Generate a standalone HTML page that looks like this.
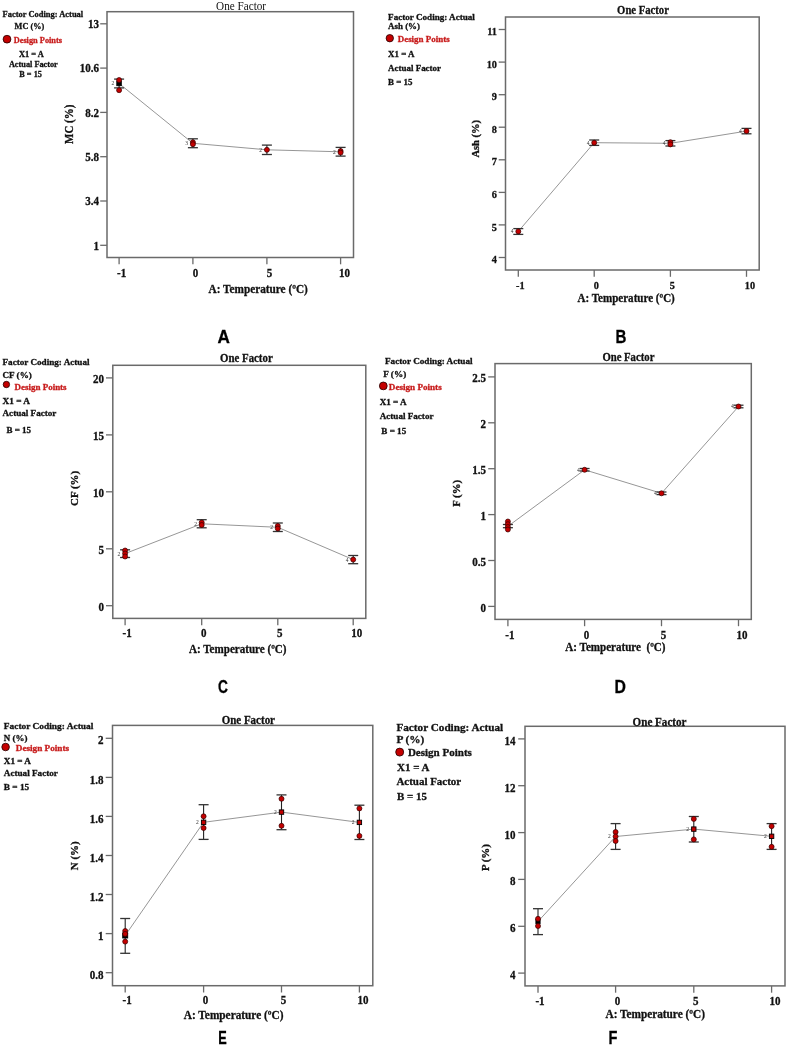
<!DOCTYPE html>
<html><head><meta charset="utf-8"><title>One Factor plots</title>
<style>
html,body{margin:0;padding:0;background:#fff;}
body{width:787px;height:1045px;overflow:hidden;font-family:"Liberation Serif",serif;}
svg{display:block;will-change:transform;}
</style></head><body>
<svg width="787" height="1045" viewBox="0 0 787 1045" font-family='"Liberation Serif", serif' fill="#111">
<rect width="787" height="1045" fill="#fff"/>
<rect x="107.0" y="11.7" width="246.5" height="245.8" fill="none" stroke="#6a6a6a" stroke-width="1.5"/>
<text x="216.1" y="9.7" font-size="11.75" textLength="50.0" lengthAdjust="spacingAndGlyphs">One Factor</text>
<line x1="100.2" y1="23.8" x2="107.0" y2="23.8" stroke="#6a6a6a" stroke-width="1.3"/>
<text transform="translate(99.0,28.1) scale(0.92,1)" font-size="12" font-weight="bold" text-anchor="end" stroke="#111" stroke-width="0.3">13</text>
<line x1="100.2" y1="68.1" x2="107.0" y2="68.1" stroke="#6a6a6a" stroke-width="1.3"/>
<text transform="translate(99.0,72.4) scale(0.92,1)" font-size="12" font-weight="bold" text-anchor="end" stroke="#111" stroke-width="0.3">10.6</text>
<line x1="100.2" y1="112.4" x2="107.0" y2="112.4" stroke="#6a6a6a" stroke-width="1.3"/>
<text transform="translate(99.0,116.7) scale(0.92,1)" font-size="12" font-weight="bold" text-anchor="end" stroke="#111" stroke-width="0.3">8.2</text>
<line x1="100.2" y1="156.7" x2="107.0" y2="156.7" stroke="#6a6a6a" stroke-width="1.3"/>
<text transform="translate(99.0,161.0) scale(0.92,1)" font-size="12" font-weight="bold" text-anchor="end" stroke="#111" stroke-width="0.3">5.8</text>
<line x1="100.2" y1="201.0" x2="107.0" y2="201.0" stroke="#6a6a6a" stroke-width="1.3"/>
<text transform="translate(99.0,205.3) scale(0.92,1)" font-size="12" font-weight="bold" text-anchor="end" stroke="#111" stroke-width="0.3">3.4</text>
<line x1="100.2" y1="245.3" x2="107.0" y2="245.3" stroke="#6a6a6a" stroke-width="1.3"/>
<text transform="translate(99.0,249.6) scale(0.92,1)" font-size="12" font-weight="bold" text-anchor="end" stroke="#111" stroke-width="0.3">1</text>
<line x1="119.1" y1="257.5" x2="119.1" y2="264.3" stroke="#6a6a6a" stroke-width="1.3"/>
<text transform="translate(121.6,276.7) scale(0.92,1)" font-size="12" font-weight="bold" text-anchor="middle" stroke="#111" stroke-width="0.3">-1</text>
<line x1="192.9" y1="257.5" x2="192.9" y2="264.3" stroke="#6a6a6a" stroke-width="1.3"/>
<text transform="translate(195.4,276.7) scale(0.92,1)" font-size="12" font-weight="bold" text-anchor="middle" stroke="#111" stroke-width="0.3">0</text>
<line x1="266.9" y1="257.5" x2="266.9" y2="264.3" stroke="#6a6a6a" stroke-width="1.3"/>
<text transform="translate(269.4,276.7) scale(0.92,1)" font-size="12" font-weight="bold" text-anchor="middle" stroke="#111" stroke-width="0.3">5</text>
<line x1="340.6" y1="257.5" x2="340.6" y2="264.3" stroke="#6a6a6a" stroke-width="1.3"/>
<text transform="translate(344.6,276.7) scale(0.92,1)" font-size="12" font-weight="bold" text-anchor="middle" stroke="#111" stroke-width="0.3">10</text>
<text x="208.5" y="293.3" font-size="11.87" font-weight="bold" textLength="99.3" lengthAdjust="spacingAndGlyphs" stroke="#111" stroke-width="0.3">A: Temperature (ºC)</text>
<text transform="translate(73.2,124.3) rotate(-90)" x="0" y="0" font-size="12" font-weight="bold" text-anchor="middle" textLength="39.2" lengthAdjust="spacingAndGlyphs" stroke="#111" stroke-width="0.3">MC (%)</text>
<text x="2.5" y="17.1" font-size="8.80" font-weight="bold" textLength="80.7" lengthAdjust="spacingAndGlyphs" stroke="#111" stroke-width="0.3">Factor Coding: Actual</text>
<text x="14.6" y="29.3" font-size="8.80" font-weight="bold" textLength="29.6" lengthAdjust="spacingAndGlyphs" stroke="#111" stroke-width="0.3">MC (%)</text>
<circle cx="7.0" cy="39.2" r="3.9" fill="#c40000" stroke="#200" stroke-width="0.8"/>
<text x="13.7" y="42.7" font-size="8.80" font-weight="bold" textLength="48.3" lengthAdjust="spacingAndGlyphs" fill="#c81c1c" stroke="#c81c1c" stroke-width="0.3">Design Points</text>
<text x="19.0" y="56.7" font-size="8.80" font-weight="bold" textLength="24.8" lengthAdjust="spacingAndGlyphs" stroke="#111" stroke-width="0.3">X1 = A</text>
<text x="8.9" y="66.8" font-size="8.80" font-weight="bold" textLength="48.9" lengthAdjust="spacingAndGlyphs" stroke="#111" stroke-width="0.3">Actual Factor</text>
<text x="19.3" y="77.0" font-size="8.80" font-weight="bold" textLength="22.6" lengthAdjust="spacingAndGlyphs" stroke="#111" stroke-width="0.3">B = 15</text>
<text x="217.4" y="342.9" font-size="18.50" font-weight="bold" textLength="12.4" lengthAdjust="spacingAndGlyphs" font-family='"Liberation Sans", sans-serif' fill="#000" stroke="#000" stroke-width="0.3">A</text>
<path d="M119.1,83.5 L192.9,143.3 L266.9,149.8 L340.6,151.8" fill="none" stroke="#8a8a8a" stroke-width="0.9"/>
<text x="112.9" y="85.4" font-size="5.5" text-anchor="middle" fill="#333">2</text>
<text x="186.7" y="145.2" font-size="5.5" text-anchor="middle" fill="#333">3</text>
<text x="260.7" y="151.7" font-size="5.5" text-anchor="middle" fill="#333">2</text>
<text x="334.4" y="153.7" font-size="5.5" text-anchor="middle" fill="#333">2</text>
<line x1="119.1" y1="79.1" x2="119.1" y2="87.9" stroke="#222" stroke-width="1.1"/>
<line x1="114.1" y1="79.1" x2="124.1" y2="79.1" stroke="#333" stroke-width="1.3"/>
<line x1="114.1" y1="87.9" x2="124.1" y2="87.9" stroke="#333" stroke-width="1.3"/>
<rect x="116.8" y="81.2" width="4.5" height="4.5" fill="#000" stroke="#000" stroke-width="0.9"/>
<circle cx="119.1" cy="80.0" r="2.5" fill="#c40000" stroke="#300" stroke-width="0.7"/>
<circle cx="119.1" cy="90.2" r="2.5" fill="#c40000" stroke="#300" stroke-width="0.7"/>
<line x1="192.9" y1="138.8" x2="192.9" y2="147.7" stroke="#222" stroke-width="1.1"/>
<line x1="187.9" y1="138.8" x2="197.9" y2="138.8" stroke="#333" stroke-width="1.3"/>
<line x1="187.9" y1="147.7" x2="197.9" y2="147.7" stroke="#333" stroke-width="1.3"/>
<circle cx="192.9" cy="142.3" r="2.5" fill="#c40000" stroke="#300" stroke-width="0.7"/>
<circle cx="192.9" cy="144.2" r="2.5" fill="#c40000" stroke="#300" stroke-width="0.7"/>
<line x1="266.9" y1="145.1" x2="266.9" y2="154.5" stroke="#222" stroke-width="1.1"/>
<line x1="261.9" y1="145.1" x2="271.9" y2="145.1" stroke="#333" stroke-width="1.3"/>
<line x1="261.9" y1="154.5" x2="271.9" y2="154.5" stroke="#333" stroke-width="1.3"/>
<circle cx="266.9" cy="149.8" r="2.5" fill="#c40000" stroke="#300" stroke-width="0.7"/>
<line x1="340.6" y1="147.4" x2="340.6" y2="156.1" stroke="#222" stroke-width="1.1"/>
<line x1="335.6" y1="147.4" x2="345.6" y2="147.4" stroke="#333" stroke-width="1.3"/>
<line x1="335.6" y1="156.1" x2="345.6" y2="156.1" stroke="#333" stroke-width="1.3"/>
<circle cx="340.6" cy="151.0" r="2.5" fill="#c40000" stroke="#300" stroke-width="0.7"/>
<circle cx="340.6" cy="152.6" r="2.5" fill="#c40000" stroke="#300" stroke-width="0.7"/>
<rect x="505.5" y="17.0" width="253.7" height="253.0" fill="none" stroke="#6a6a6a" stroke-width="1.5"/>
<text x="617.1" y="13.5" font-size="12.10" font-weight="bold" textLength="51.8" lengthAdjust="spacingAndGlyphs" stroke="#111" stroke-width="0.3">One Factor</text>
<line x1="498.7" y1="29.5" x2="505.5" y2="29.5" stroke="#6a6a6a" stroke-width="1.3"/>
<text transform="translate(497.0,35.1) scale(0.92,1)" font-size="11.2" font-weight="bold" text-anchor="end" stroke="#111" stroke-width="0.3">11</text>
<line x1="498.7" y1="62.1" x2="505.5" y2="62.1" stroke="#6a6a6a" stroke-width="1.3"/>
<text transform="translate(497.0,67.7) scale(0.92,1)" font-size="11.2" font-weight="bold" text-anchor="end" stroke="#111" stroke-width="0.3">10</text>
<line x1="498.7" y1="94.7" x2="505.5" y2="94.7" stroke="#6a6a6a" stroke-width="1.3"/>
<text transform="translate(497.0,100.2) scale(0.92,1)" font-size="11.2" font-weight="bold" text-anchor="end" stroke="#111" stroke-width="0.3">9</text>
<line x1="498.7" y1="127.2" x2="505.5" y2="127.2" stroke="#6a6a6a" stroke-width="1.3"/>
<text transform="translate(497.0,132.8) scale(0.92,1)" font-size="11.2" font-weight="bold" text-anchor="end" stroke="#111" stroke-width="0.3">8</text>
<line x1="498.7" y1="159.8" x2="505.5" y2="159.8" stroke="#6a6a6a" stroke-width="1.3"/>
<text transform="translate(497.0,165.4) scale(0.92,1)" font-size="11.2" font-weight="bold" text-anchor="end" stroke="#111" stroke-width="0.3">7</text>
<line x1="498.7" y1="192.4" x2="505.5" y2="192.4" stroke="#6a6a6a" stroke-width="1.3"/>
<text transform="translate(497.0,198.0) scale(0.92,1)" font-size="11.2" font-weight="bold" text-anchor="end" stroke="#111" stroke-width="0.3">6</text>
<line x1="498.7" y1="224.9" x2="505.5" y2="224.9" stroke="#6a6a6a" stroke-width="1.3"/>
<text transform="translate(497.0,230.5) scale(0.92,1)" font-size="11.2" font-weight="bold" text-anchor="end" stroke="#111" stroke-width="0.3">5</text>
<line x1="498.7" y1="257.5" x2="505.5" y2="257.5" stroke="#6a6a6a" stroke-width="1.3"/>
<text transform="translate(497.0,263.1) scale(0.92,1)" font-size="11.2" font-weight="bold" text-anchor="end" stroke="#111" stroke-width="0.3">4</text>
<line x1="518.3" y1="270.0" x2="518.3" y2="276.8" stroke="#6a6a6a" stroke-width="1.3"/>
<text transform="translate(520.3,289.0) scale(0.92,1)" font-size="11.2" font-weight="bold" text-anchor="middle" stroke="#111" stroke-width="0.3">-1</text>
<line x1="594.2" y1="270.0" x2="594.2" y2="276.8" stroke="#6a6a6a" stroke-width="1.3"/>
<text transform="translate(596.2,289.0) scale(0.92,1)" font-size="11.2" font-weight="bold" text-anchor="middle" stroke="#111" stroke-width="0.3">0</text>
<line x1="670.4" y1="270.0" x2="670.4" y2="276.8" stroke="#6a6a6a" stroke-width="1.3"/>
<text transform="translate(672.4,289.0) scale(0.92,1)" font-size="11.2" font-weight="bold" text-anchor="middle" stroke="#111" stroke-width="0.3">5</text>
<line x1="746.5" y1="270.0" x2="746.5" y2="276.8" stroke="#6a6a6a" stroke-width="1.3"/>
<text transform="translate(750.0,289.0) scale(0.92,1)" font-size="11.2" font-weight="bold" text-anchor="middle" stroke="#111" stroke-width="0.3">10</text>
<text x="577.5" y="302.2" font-size="11.66" font-weight="bold" textLength="97.3" lengthAdjust="spacingAndGlyphs" stroke="#111" stroke-width="0.3">A: Temperature (ºC)</text>
<text transform="translate(479.2,138.8) rotate(-90)" x="0" y="0" font-size="11" font-weight="bold" text-anchor="middle" textLength="37.6" lengthAdjust="spacingAndGlyphs" stroke="#111" stroke-width="0.3">Ash (%)</text>
<text x="388.1" y="19.8" font-size="8.80" font-weight="bold" textLength="86.8" lengthAdjust="spacingAndGlyphs" stroke="#111" stroke-width="0.3">Factor Coding: Actual</text>
<text x="388.1" y="29.2" font-size="8.80" font-weight="bold" textLength="31.9" lengthAdjust="spacingAndGlyphs" stroke="#111" stroke-width="0.3">Ash (%)</text>
<circle cx="389.8" cy="38.2" r="3.7" fill="#c40000" stroke="#200" stroke-width="0.8"/>
<text x="397.7" y="42.3" font-size="8.80" font-weight="bold" textLength="52.0" lengthAdjust="spacingAndGlyphs" fill="#c81c1c" stroke="#c81c1c" stroke-width="0.3">Design Points</text>
<text x="388.1" y="57.3" font-size="8.80" font-weight="bold" textLength="26.5" lengthAdjust="spacingAndGlyphs" stroke="#111" stroke-width="0.3">X1 = A</text>
<text x="388.1" y="70.5" font-size="8.80" font-weight="bold" textLength="52.9" lengthAdjust="spacingAndGlyphs" stroke="#111" stroke-width="0.3">Actual Factor</text>
<text x="388.1" y="84.8" font-size="8.80" font-weight="bold" textLength="24.4" lengthAdjust="spacingAndGlyphs" stroke="#111" stroke-width="0.3">B = 15</text>
<text x="615.4" y="342.6" font-size="18.50" font-weight="bold" textLength="10.9" lengthAdjust="spacingAndGlyphs" font-family='"Liberation Sans", sans-serif' fill="#000" stroke="#000" stroke-width="0.3">B</text>
<path d="M518.3,231.4 L594.2,142.7 L670.4,143.3 L746.5,131.1" fill="none" stroke="#8a8a8a" stroke-width="0.9"/>
<text x="512.1" y="233.3" font-size="5.5" text-anchor="middle" fill="#333">4</text>
<text x="588.0" y="144.6" font-size="5.5" text-anchor="middle" fill="#333">4</text>
<text x="664.2" y="145.2" font-size="5.5" text-anchor="middle" fill="#333">4</text>
<text x="740.3" y="133.0" font-size="5.5" text-anchor="middle" fill="#333">4</text>
<line x1="518.3" y1="228.6" x2="518.3" y2="234.4" stroke="#222" stroke-width="1.1"/>
<line x1="513.3" y1="228.6" x2="523.3" y2="228.6" stroke="#333" stroke-width="1.3"/>
<line x1="513.3" y1="234.4" x2="523.3" y2="234.4" stroke="#333" stroke-width="1.3"/>
<circle cx="518.3" cy="231.4" r="2.5" fill="#c40000" stroke="#300" stroke-width="0.7"/>
<line x1="594.2" y1="140.0" x2="594.2" y2="145.4" stroke="#222" stroke-width="1.1"/>
<line x1="589.2" y1="140.0" x2="599.2" y2="140.0" stroke="#333" stroke-width="1.3"/>
<line x1="589.2" y1="145.4" x2="599.2" y2="145.4" stroke="#333" stroke-width="1.3"/>
<circle cx="594.2" cy="142.7" r="2.5" fill="#c40000" stroke="#300" stroke-width="0.7"/>
<line x1="670.4" y1="140.6" x2="670.4" y2="146.0" stroke="#222" stroke-width="1.1"/>
<line x1="665.4" y1="140.6" x2="675.4" y2="140.6" stroke="#333" stroke-width="1.3"/>
<line x1="665.4" y1="146.0" x2="675.4" y2="146.0" stroke="#333" stroke-width="1.3"/>
<circle cx="670.4" cy="142.2" r="2.5" fill="#c40000" stroke="#300" stroke-width="0.7"/>
<circle cx="670.4" cy="144.4" r="2.5" fill="#c40000" stroke="#300" stroke-width="0.7"/>
<line x1="746.5" y1="128.4" x2="746.5" y2="133.8" stroke="#222" stroke-width="1.1"/>
<line x1="741.5" y1="128.4" x2="751.5" y2="128.4" stroke="#333" stroke-width="1.3"/>
<line x1="741.5" y1="133.8" x2="751.5" y2="133.8" stroke="#333" stroke-width="1.3"/>
<circle cx="746.5" cy="131.1" r="2.5" fill="#c40000" stroke="#300" stroke-width="0.7"/>
<rect x="112.8" y="365.3" width="253.0" height="253.1" fill="none" stroke="#6a6a6a" stroke-width="1.5"/>
<text x="220.1" y="361.7" font-size="11.55" font-weight="bold" textLength="52.6" lengthAdjust="spacingAndGlyphs" stroke="#111" stroke-width="0.3">One Factor</text>
<line x1="106.0" y1="377.9" x2="112.8" y2="377.9" stroke="#6a6a6a" stroke-width="1.3"/>
<text transform="translate(104.0,382.7) scale(0.92,1)" font-size="12" font-weight="bold" text-anchor="end" stroke="#111" stroke-width="0.3">20</text>
<line x1="106.0" y1="434.9" x2="112.8" y2="434.9" stroke="#6a6a6a" stroke-width="1.3"/>
<text transform="translate(104.0,439.7) scale(0.92,1)" font-size="12" font-weight="bold" text-anchor="end" stroke="#111" stroke-width="0.3">15</text>
<line x1="106.0" y1="491.8" x2="112.8" y2="491.8" stroke="#6a6a6a" stroke-width="1.3"/>
<text transform="translate(104.0,496.6) scale(0.92,1)" font-size="12" font-weight="bold" text-anchor="end" stroke="#111" stroke-width="0.3">10</text>
<line x1="106.0" y1="548.8" x2="112.8" y2="548.8" stroke="#6a6a6a" stroke-width="1.3"/>
<text transform="translate(104.0,553.5) scale(0.92,1)" font-size="12" font-weight="bold" text-anchor="end" stroke="#111" stroke-width="0.3">5</text>
<line x1="106.0" y1="605.7" x2="112.8" y2="605.7" stroke="#6a6a6a" stroke-width="1.3"/>
<text transform="translate(104.0,610.5) scale(0.92,1)" font-size="12" font-weight="bold" text-anchor="end" stroke="#111" stroke-width="0.3">0</text>
<line x1="125.1" y1="618.4" x2="125.1" y2="625.2" stroke="#6a6a6a" stroke-width="1.3"/>
<text transform="translate(127.1,636.7) scale(0.92,1)" font-size="12" font-weight="bold" text-anchor="middle" stroke="#111" stroke-width="0.3">-1</text>
<line x1="201.7" y1="618.4" x2="201.7" y2="625.2" stroke="#6a6a6a" stroke-width="1.3"/>
<text transform="translate(203.7,636.7) scale(0.92,1)" font-size="12" font-weight="bold" text-anchor="middle" stroke="#111" stroke-width="0.3">0</text>
<line x1="277.8" y1="618.4" x2="277.8" y2="625.2" stroke="#6a6a6a" stroke-width="1.3"/>
<text transform="translate(279.8,636.7) scale(0.92,1)" font-size="12" font-weight="bold" text-anchor="middle" stroke="#111" stroke-width="0.3">5</text>
<line x1="353.2" y1="618.4" x2="353.2" y2="625.2" stroke="#6a6a6a" stroke-width="1.3"/>
<text transform="translate(356.7,636.7) scale(0.92,1)" font-size="12" font-weight="bold" text-anchor="middle" stroke="#111" stroke-width="0.3">10</text>
<text x="189.0" y="652.6" font-size="11.66" font-weight="bold" textLength="97.5" lengthAdjust="spacingAndGlyphs" stroke="#111" stroke-width="0.3">A: Temperature (ºC)</text>
<text transform="translate(78.1,488.4) rotate(-90)" x="0" y="0" font-size="11" font-weight="bold" text-anchor="middle" textLength="35.0" lengthAdjust="spacingAndGlyphs" stroke="#111" stroke-width="0.3">CF (%)</text>
<text x="2.5" y="365.4" font-size="8.80" font-weight="bold" textLength="87.0" lengthAdjust="spacingAndGlyphs" stroke="#111" stroke-width="0.3">Factor Coding: Actual</text>
<text x="2.5" y="378.0" font-size="8.80" font-weight="bold" textLength="29.3" lengthAdjust="spacingAndGlyphs" stroke="#111" stroke-width="0.3">CF (%)</text>
<circle cx="6.4" cy="384.5" r="3.2" fill="#c40000" stroke="#200" stroke-width="0.8"/>
<text x="14.5" y="389.6" font-size="8.80" font-weight="bold" textLength="52.1" lengthAdjust="spacingAndGlyphs" fill="#c81c1c" stroke="#c81c1c" stroke-width="0.3">Design Points</text>
<text x="2.5" y="403.5" font-size="8.80" font-weight="bold" textLength="27.5" lengthAdjust="spacingAndGlyphs" stroke="#111" stroke-width="0.3">X1 = A</text>
<text x="2.5" y="416.2" font-size="8.80" font-weight="bold" textLength="53.9" lengthAdjust="spacingAndGlyphs" stroke="#111" stroke-width="0.3">Actual Factor</text>
<text x="6.4" y="432.8" font-size="8.80" font-weight="bold" textLength="24.6" lengthAdjust="spacingAndGlyphs" stroke="#111" stroke-width="0.3">B = 15</text>
<text x="218.0" y="693.4" font-size="18.50" font-weight="bold" textLength="9.9" lengthAdjust="spacingAndGlyphs" font-family='"Liberation Sans", sans-serif' fill="#000" stroke="#000" stroke-width="0.3">C</text>
<path d="M125.1,553.6 L201.7,523.8 L277.8,527.3 L353.2,559.6" fill="none" stroke="#8a8a8a" stroke-width="0.9"/>
<text x="118.9" y="555.5" font-size="5.5" text-anchor="middle" fill="#333">2</text>
<text x="195.5" y="525.7" font-size="5.5" text-anchor="middle" fill="#333">2</text>
<text x="271.6" y="529.2" font-size="5.5" text-anchor="middle" fill="#333">2</text>
<text x="347.0" y="561.5" font-size="5.5" text-anchor="middle" fill="#333">4</text>
<line x1="125.1" y1="549.8" x2="125.1" y2="557.5" stroke="#222" stroke-width="1.1"/>
<line x1="120.1" y1="549.8" x2="130.1" y2="549.8" stroke="#333" stroke-width="1.3"/>
<line x1="120.1" y1="557.5" x2="130.1" y2="557.5" stroke="#333" stroke-width="1.3"/>
<circle cx="125.1" cy="550.5" r="2.5" fill="#c40000" stroke="#300" stroke-width="0.7"/>
<circle cx="125.1" cy="553.5" r="2.5" fill="#c40000" stroke="#300" stroke-width="0.7"/>
<circle cx="125.1" cy="556.5" r="2.5" fill="#c40000" stroke="#300" stroke-width="0.7"/>
<line x1="201.7" y1="519.7" x2="201.7" y2="527.8" stroke="#222" stroke-width="1.1"/>
<line x1="196.7" y1="519.7" x2="206.7" y2="519.7" stroke="#333" stroke-width="1.3"/>
<line x1="196.7" y1="527.8" x2="206.7" y2="527.8" stroke="#333" stroke-width="1.3"/>
<circle cx="201.7" cy="522.5" r="2.5" fill="#c40000" stroke="#300" stroke-width="0.7"/>
<circle cx="201.7" cy="525.0" r="2.5" fill="#c40000" stroke="#300" stroke-width="0.7"/>
<line x1="277.8" y1="523.0" x2="277.8" y2="531.5" stroke="#222" stroke-width="1.1"/>
<line x1="272.8" y1="523.0" x2="282.8" y2="523.0" stroke="#333" stroke-width="1.3"/>
<line x1="272.8" y1="531.5" x2="282.8" y2="531.5" stroke="#333" stroke-width="1.3"/>
<circle cx="277.8" cy="526.0" r="2.5" fill="#c40000" stroke="#300" stroke-width="0.7"/>
<circle cx="277.8" cy="528.5" r="2.5" fill="#c40000" stroke="#300" stroke-width="0.7"/>
<line x1="353.2" y1="555.5" x2="353.2" y2="563.7" stroke="#222" stroke-width="1.1"/>
<line x1="348.2" y1="555.5" x2="358.2" y2="555.5" stroke="#333" stroke-width="1.3"/>
<line x1="348.2" y1="563.7" x2="358.2" y2="563.7" stroke="#333" stroke-width="1.3"/>
<circle cx="353.2" cy="559.6" r="2.5" fill="#c40000" stroke="#300" stroke-width="0.7"/>
<rect x="495.0" y="363.6" width="256.3" height="255.8" fill="none" stroke="#6a6a6a" stroke-width="1.5"/>
<text x="602.4" y="361.0" font-size="11.55" font-weight="bold" textLength="52.0" lengthAdjust="spacingAndGlyphs" stroke="#111" stroke-width="0.3">One Factor</text>
<line x1="488.2" y1="376.9" x2="495.0" y2="376.9" stroke="#6a6a6a" stroke-width="1.3"/>
<text transform="translate(486.0,382.2) scale(0.92,1)" font-size="12" font-weight="bold" text-anchor="end" stroke="#111" stroke-width="0.3">2.5</text>
<line x1="488.2" y1="422.8" x2="495.0" y2="422.8" stroke="#6a6a6a" stroke-width="1.3"/>
<text transform="translate(486.0,428.1) scale(0.92,1)" font-size="12" font-weight="bold" text-anchor="end" stroke="#111" stroke-width="0.3">2</text>
<line x1="488.2" y1="468.7" x2="495.0" y2="468.7" stroke="#6a6a6a" stroke-width="1.3"/>
<text transform="translate(486.0,474.0) scale(0.92,1)" font-size="12" font-weight="bold" text-anchor="end" stroke="#111" stroke-width="0.3">1.5</text>
<line x1="488.2" y1="514.6" x2="495.0" y2="514.6" stroke="#6a6a6a" stroke-width="1.3"/>
<text transform="translate(486.0,519.9) scale(0.92,1)" font-size="12" font-weight="bold" text-anchor="end" stroke="#111" stroke-width="0.3">1</text>
<line x1="488.2" y1="560.5" x2="495.0" y2="560.5" stroke="#6a6a6a" stroke-width="1.3"/>
<text transform="translate(486.0,565.8) scale(0.92,1)" font-size="12" font-weight="bold" text-anchor="end" stroke="#111" stroke-width="0.3">0.5</text>
<line x1="488.2" y1="606.4" x2="495.0" y2="606.4" stroke="#6a6a6a" stroke-width="1.3"/>
<text transform="translate(486.0,611.7) scale(0.92,1)" font-size="12" font-weight="bold" text-anchor="end" stroke="#111" stroke-width="0.3">0</text>
<line x1="507.9" y1="619.4" x2="507.9" y2="626.2" stroke="#6a6a6a" stroke-width="1.3"/>
<text transform="translate(509.9,638.6) scale(0.92,1)" font-size="12" font-weight="bold" text-anchor="middle" stroke="#111" stroke-width="0.3">-1</text>
<line x1="584.6" y1="619.4" x2="584.6" y2="626.2" stroke="#6a6a6a" stroke-width="1.3"/>
<text transform="translate(586.6,638.6) scale(0.92,1)" font-size="12" font-weight="bold" text-anchor="middle" stroke="#111" stroke-width="0.3">0</text>
<line x1="661.5" y1="619.4" x2="661.5" y2="626.2" stroke="#6a6a6a" stroke-width="1.3"/>
<text transform="translate(663.5,638.6) scale(0.92,1)" font-size="12" font-weight="bold" text-anchor="middle" stroke="#111" stroke-width="0.3">5</text>
<line x1="738.5" y1="619.4" x2="738.5" y2="626.2" stroke="#6a6a6a" stroke-width="1.3"/>
<text transform="translate(742.0,638.6) scale(0.92,1)" font-size="12" font-weight="bold" text-anchor="middle" stroke="#111" stroke-width="0.3">10</text>
<text x="565.3" y="650.9" font-size="11.66" font-weight="bold" textLength="100.2" lengthAdjust="spacingAndGlyphs" stroke="#111" stroke-width="0.3">A: Temperature  (ºC)</text>
<text transform="translate(459.8,493.4) rotate(-90)" x="0" y="0" font-size="11" font-weight="bold" text-anchor="middle" textLength="26.9" lengthAdjust="spacingAndGlyphs" stroke="#111" stroke-width="0.3">F (%)</text>
<text x="385.0" y="364.1" font-size="8.80" font-weight="bold" textLength="87.6" lengthAdjust="spacingAndGlyphs" stroke="#111" stroke-width="0.3">Factor Coding: Actual</text>
<text x="383.3" y="376.7" font-size="8.80" font-weight="bold" textLength="22.9" lengthAdjust="spacingAndGlyphs" stroke="#111" stroke-width="0.3">F (%)</text>
<circle cx="383.3" cy="385.9" r="3.9" fill="#c40000" stroke="#200" stroke-width="0.8"/>
<text x="388.8" y="389.5" font-size="8.80" font-weight="bold" textLength="52.9" lengthAdjust="spacingAndGlyphs" fill="#c81c1c" stroke="#c81c1c" stroke-width="0.3">Design Points</text>
<text x="379.7" y="404.7" font-size="8.80" font-weight="bold" textLength="27.0" lengthAdjust="spacingAndGlyphs" stroke="#111" stroke-width="0.3">X1 = A</text>
<text x="379.7" y="418.5" font-size="8.80" font-weight="bold" textLength="53.8" lengthAdjust="spacingAndGlyphs" stroke="#111" stroke-width="0.3">Actual Factor</text>
<text x="381.3" y="433.7" font-size="8.80" font-weight="bold" textLength="24.9" lengthAdjust="spacingAndGlyphs" stroke="#111" stroke-width="0.3">B = 15</text>
<text x="614.6" y="693.0" font-size="18.50" font-weight="bold" textLength="11.4" lengthAdjust="spacingAndGlyphs" font-family='"Liberation Sans", sans-serif' fill="#000" stroke="#000" stroke-width="0.3">D</text>
<path d="M507.9,526.3 L584.6,469.8 L661.5,493.3 L738.5,406.5" fill="none" stroke="#8a8a8a" stroke-width="0.9"/>
<text x="578.4" y="471.7" font-size="5.5" text-anchor="middle" fill="#333">4</text>
<text x="655.3" y="495.2" font-size="5.5" text-anchor="middle" fill="#333">4</text>
<text x="732.3" y="408.4" font-size="5.5" text-anchor="middle" fill="#333">4</text>
<line x1="507.9" y1="524.5" x2="507.9" y2="527.7" stroke="#222" stroke-width="1.1"/>
<line x1="502.9" y1="524.5" x2="512.9" y2="524.5" stroke="#333" stroke-width="1.3"/>
<line x1="502.9" y1="527.7" x2="512.9" y2="527.7" stroke="#333" stroke-width="1.3"/>
<circle cx="507.9" cy="521.5" r="2.5" fill="#c40000" stroke="#300" stroke-width="0.7"/>
<circle cx="507.9" cy="524.2" r="2.5" fill="#c40000" stroke="#300" stroke-width="0.7"/>
<circle cx="507.9" cy="527.0" r="2.5" fill="#c40000" stroke="#300" stroke-width="0.7"/>
<circle cx="507.9" cy="529.5" r="2.5" fill="#c40000" stroke="#300" stroke-width="0.7"/>
<line x1="584.6" y1="468.5" x2="584.6" y2="471.0" stroke="#222" stroke-width="1.1"/>
<line x1="579.6" y1="468.5" x2="589.6" y2="468.5" stroke="#333" stroke-width="1.3"/>
<line x1="579.6" y1="471.0" x2="589.6" y2="471.0" stroke="#333" stroke-width="1.3"/>
<circle cx="584.6" cy="469.8" r="2.5" fill="#c40000" stroke="#300" stroke-width="0.7"/>
<line x1="661.5" y1="492.0" x2="661.5" y2="494.6" stroke="#222" stroke-width="1.1"/>
<line x1="656.5" y1="492.0" x2="666.5" y2="492.0" stroke="#333" stroke-width="1.3"/>
<line x1="656.5" y1="494.6" x2="666.5" y2="494.6" stroke="#333" stroke-width="1.3"/>
<circle cx="661.5" cy="493.3" r="2.5" fill="#c40000" stroke="#300" stroke-width="0.7"/>
<line x1="738.5" y1="405.2" x2="738.5" y2="407.8" stroke="#222" stroke-width="1.1"/>
<line x1="733.5" y1="405.2" x2="743.5" y2="405.2" stroke="#333" stroke-width="1.3"/>
<line x1="733.5" y1="407.8" x2="743.5" y2="407.8" stroke="#333" stroke-width="1.3"/>
<circle cx="738.5" cy="406.5" r="2.5" fill="#c40000" stroke="#300" stroke-width="0.7"/>
<rect x="112.5" y="725.4" width="260.3" height="260.3" fill="none" stroke="#6a6a6a" stroke-width="1.5"/>
<text x="221.7" y="724.0" font-size="12.10" font-weight="bold" textLength="53.3" lengthAdjust="spacingAndGlyphs" stroke="#111" stroke-width="0.3">One Factor</text>
<line x1="105.7" y1="738.3" x2="112.5" y2="738.3" stroke="#6a6a6a" stroke-width="1.3"/>
<text transform="translate(103.5,744.4) scale(0.92,1)" font-size="12" font-weight="bold" text-anchor="end" stroke="#111" stroke-width="0.3">2</text>
<line x1="105.7" y1="777.4" x2="112.5" y2="777.4" stroke="#6a6a6a" stroke-width="1.3"/>
<text transform="translate(103.5,783.5) scale(0.92,1)" font-size="12" font-weight="bold" text-anchor="end" stroke="#111" stroke-width="0.3">1.8</text>
<line x1="105.7" y1="816.4" x2="112.5" y2="816.4" stroke="#6a6a6a" stroke-width="1.3"/>
<text transform="translate(103.5,822.5) scale(0.92,1)" font-size="12" font-weight="bold" text-anchor="end" stroke="#111" stroke-width="0.3">1.6</text>
<line x1="105.7" y1="855.5" x2="112.5" y2="855.5" stroke="#6a6a6a" stroke-width="1.3"/>
<text transform="translate(103.5,861.6) scale(0.92,1)" font-size="12" font-weight="bold" text-anchor="end" stroke="#111" stroke-width="0.3">1.4</text>
<line x1="105.7" y1="894.5" x2="112.5" y2="894.5" stroke="#6a6a6a" stroke-width="1.3"/>
<text transform="translate(103.5,900.6) scale(0.92,1)" font-size="12" font-weight="bold" text-anchor="end" stroke="#111" stroke-width="0.3">1.2</text>
<line x1="105.7" y1="933.6" x2="112.5" y2="933.6" stroke="#6a6a6a" stroke-width="1.3"/>
<text transform="translate(103.5,939.7) scale(0.92,1)" font-size="12" font-weight="bold" text-anchor="end" stroke="#111" stroke-width="0.3">1</text>
<line x1="105.7" y1="972.7" x2="112.5" y2="972.7" stroke="#6a6a6a" stroke-width="1.3"/>
<text transform="translate(103.5,978.8) scale(0.92,1)" font-size="12" font-weight="bold" text-anchor="end" stroke="#111" stroke-width="0.3">0.8</text>
<line x1="125.2" y1="985.7" x2="125.2" y2="992.5" stroke="#6a6a6a" stroke-width="1.3"/>
<text transform="translate(127.2,1004.4) scale(0.92,1)" font-size="12" font-weight="bold" text-anchor="middle" stroke="#111" stroke-width="0.3">-1</text>
<line x1="203.6" y1="985.7" x2="203.6" y2="992.5" stroke="#6a6a6a" stroke-width="1.3"/>
<text transform="translate(205.6,1004.4) scale(0.92,1)" font-size="12" font-weight="bold" text-anchor="middle" stroke="#111" stroke-width="0.3">0</text>
<line x1="281.5" y1="985.7" x2="281.5" y2="992.5" stroke="#6a6a6a" stroke-width="1.3"/>
<text transform="translate(283.5,1004.4) scale(0.92,1)" font-size="12" font-weight="bold" text-anchor="middle" stroke="#111" stroke-width="0.3">5</text>
<line x1="359.4" y1="985.7" x2="359.4" y2="992.5" stroke="#6a6a6a" stroke-width="1.3"/>
<text transform="translate(362.9,1004.4) scale(0.92,1)" font-size="12" font-weight="bold" text-anchor="middle" stroke="#111" stroke-width="0.3">10</text>
<text x="183.8" y="1018.9" font-size="11.66" font-weight="bold" textLength="99.7" lengthAdjust="spacingAndGlyphs" stroke="#111" stroke-width="0.3">A: Temperature (ºC)</text>
<text transform="translate(77.9,855.8) rotate(-90)" x="0" y="0" font-size="11" font-weight="bold" text-anchor="middle" textLength="28.8" lengthAdjust="spacingAndGlyphs" stroke="#111" stroke-width="0.3">N (%)</text>
<text x="3.8" y="729.2" font-size="8.80" font-weight="bold" textLength="89.5" lengthAdjust="spacingAndGlyphs" stroke="#111" stroke-width="0.3">Factor Coding: Actual</text>
<text x="3.8" y="740.7" font-size="8.80" font-weight="bold" textLength="23.6" lengthAdjust="spacingAndGlyphs" stroke="#111" stroke-width="0.3">N (%)</text>
<circle cx="5.6" cy="747.0" r="3.8" fill="#c40000" stroke="#200" stroke-width="0.8"/>
<text x="15.8" y="750.8" font-size="8.80" font-weight="bold" textLength="53.3" lengthAdjust="spacingAndGlyphs" fill="#c81c1c" stroke="#c81c1c" stroke-width="0.3">Design Points</text>
<text x="3.8" y="763.5" font-size="8.80" font-weight="bold" textLength="27.2" lengthAdjust="spacingAndGlyphs" stroke="#111" stroke-width="0.3">X1 = A</text>
<text x="3.8" y="775.7" font-size="8.80" font-weight="bold" textLength="54.1" lengthAdjust="spacingAndGlyphs" stroke="#111" stroke-width="0.3">Actual Factor</text>
<text x="3.8" y="790.2" font-size="8.80" font-weight="bold" textLength="25.4" lengthAdjust="spacingAndGlyphs" stroke="#111" stroke-width="0.3">B = 15</text>
<text x="218.3" y="1043.6" font-size="18.50" font-weight="bold" textLength="8.5" lengthAdjust="spacingAndGlyphs" font-family='"Liberation Sans", sans-serif' fill="#000" stroke="#000" stroke-width="0.3">E</text>
<path d="M125.2,935.5 L203.6,822.3 L281.5,812.1 L359.4,822.4" fill="none" stroke="#8a8a8a" stroke-width="0.9"/>
<text x="197.4" y="824.2" font-size="5.5" text-anchor="middle" fill="#333">2</text>
<text x="275.3" y="814.0" font-size="5.5" text-anchor="middle" fill="#333">2</text>
<text x="353.2" y="824.3" font-size="5.5" text-anchor="middle" fill="#333">2</text>
<line x1="125.2" y1="918.5" x2="125.2" y2="953.3" stroke="#222" stroke-width="1.1"/>
<line x1="120.2" y1="918.5" x2="130.2" y2="918.5" stroke="#333" stroke-width="1.3"/>
<line x1="120.2" y1="953.3" x2="130.2" y2="953.3" stroke="#333" stroke-width="1.3"/>
<rect x="122.7" y="933.0" width="5.0" height="5.0" fill="#000" stroke="#000" stroke-width="0.9"/>
<circle cx="125.2" cy="931.0" r="2.5" fill="#c40000" stroke="#300" stroke-width="0.7"/>
<circle cx="125.2" cy="933.9" r="2.5" fill="#c40000" stroke="#300" stroke-width="0.7"/>
<circle cx="125.2" cy="941.6" r="2.5" fill="#c40000" stroke="#300" stroke-width="0.7"/>
<line x1="203.6" y1="804.7" x2="203.6" y2="839.4" stroke="#222" stroke-width="1.1"/>
<line x1="198.6" y1="804.7" x2="208.6" y2="804.7" stroke="#333" stroke-width="1.3"/>
<line x1="198.6" y1="839.4" x2="208.6" y2="839.4" stroke="#333" stroke-width="1.3"/>
<rect x="201.4" y="820.1" width="4.4" height="4.4" fill="#c40000" stroke="#000" stroke-width="0.9"/>
<circle cx="203.6" cy="816.3" r="2.5" fill="#c40000" stroke="#300" stroke-width="0.7"/>
<circle cx="203.6" cy="828.0" r="2.5" fill="#c40000" stroke="#300" stroke-width="0.7"/>
<line x1="281.5" y1="794.9" x2="281.5" y2="829.7" stroke="#222" stroke-width="1.1"/>
<line x1="276.5" y1="794.9" x2="286.5" y2="794.9" stroke="#333" stroke-width="1.3"/>
<line x1="276.5" y1="829.7" x2="286.5" y2="829.7" stroke="#333" stroke-width="1.3"/>
<rect x="279.3" y="809.9" width="4.4" height="4.4" fill="#c40000" stroke="#000" stroke-width="0.9"/>
<circle cx="281.5" cy="798.8" r="2.5" fill="#c40000" stroke="#300" stroke-width="0.7"/>
<circle cx="281.5" cy="825.8" r="2.5" fill="#c40000" stroke="#300" stroke-width="0.7"/>
<line x1="359.4" y1="805.2" x2="359.4" y2="839.5" stroke="#222" stroke-width="1.1"/>
<line x1="354.4" y1="805.2" x2="364.4" y2="805.2" stroke="#333" stroke-width="1.3"/>
<line x1="354.4" y1="839.5" x2="364.4" y2="839.5" stroke="#333" stroke-width="1.3"/>
<rect x="357.2" y="820.2" width="4.4" height="4.4" fill="#c40000" stroke="#000" stroke-width="0.9"/>
<circle cx="359.4" cy="808.4" r="2.5" fill="#c40000" stroke="#300" stroke-width="0.7"/>
<circle cx="359.4" cy="835.9" r="2.5" fill="#c40000" stroke="#300" stroke-width="0.7"/>
<rect x="525.0" y="726.3" width="260.0" height="259.6" fill="none" stroke="#6a6a6a" stroke-width="1.5"/>
<text x="632.6" y="725.5" font-size="12.10" font-weight="bold" textLength="53.9" lengthAdjust="spacingAndGlyphs" stroke="#111" stroke-width="0.3">One Factor</text>
<line x1="518.2" y1="738.9" x2="525.0" y2="738.9" stroke="#6a6a6a" stroke-width="1.3"/>
<text transform="translate(515.5,744.8) scale(0.92,1)" font-size="12" font-weight="bold" text-anchor="end" stroke="#111" stroke-width="0.3">14</text>
<line x1="518.2" y1="785.7" x2="525.0" y2="785.7" stroke="#6a6a6a" stroke-width="1.3"/>
<text transform="translate(515.5,791.6) scale(0.92,1)" font-size="12" font-weight="bold" text-anchor="end" stroke="#111" stroke-width="0.3">12</text>
<line x1="518.2" y1="832.6" x2="525.0" y2="832.6" stroke="#6a6a6a" stroke-width="1.3"/>
<text transform="translate(515.5,838.5) scale(0.92,1)" font-size="12" font-weight="bold" text-anchor="end" stroke="#111" stroke-width="0.3">10</text>
<line x1="518.2" y1="879.4" x2="525.0" y2="879.4" stroke="#6a6a6a" stroke-width="1.3"/>
<text transform="translate(515.5,885.3) scale(0.92,1)" font-size="12" font-weight="bold" text-anchor="end" stroke="#111" stroke-width="0.3">8</text>
<line x1="518.2" y1="926.3" x2="525.0" y2="926.3" stroke="#6a6a6a" stroke-width="1.3"/>
<text transform="translate(515.5,932.2) scale(0.92,1)" font-size="12" font-weight="bold" text-anchor="end" stroke="#111" stroke-width="0.3">6</text>
<line x1="518.2" y1="973.1" x2="525.0" y2="973.1" stroke="#6a6a6a" stroke-width="1.3"/>
<text transform="translate(515.5,979.0) scale(0.92,1)" font-size="12" font-weight="bold" text-anchor="end" stroke="#111" stroke-width="0.3">4</text>
<line x1="538.0" y1="985.9" x2="538.0" y2="992.7" stroke="#6a6a6a" stroke-width="1.3"/>
<text transform="translate(540.0,1005.0) scale(0.92,1)" font-size="12" font-weight="bold" text-anchor="middle" stroke="#111" stroke-width="0.3">-1</text>
<line x1="615.6" y1="985.9" x2="615.6" y2="992.7" stroke="#6a6a6a" stroke-width="1.3"/>
<text transform="translate(617.6,1005.0) scale(0.92,1)" font-size="12" font-weight="bold" text-anchor="middle" stroke="#111" stroke-width="0.3">0</text>
<line x1="693.8" y1="985.9" x2="693.8" y2="992.7" stroke="#6a6a6a" stroke-width="1.3"/>
<text transform="translate(695.8,1005.0) scale(0.92,1)" font-size="12" font-weight="bold" text-anchor="middle" stroke="#111" stroke-width="0.3">5</text>
<line x1="771.6" y1="985.9" x2="771.6" y2="992.7" stroke="#6a6a6a" stroke-width="1.3"/>
<text transform="translate(775.1,1005.0) scale(0.92,1)" font-size="12" font-weight="bold" text-anchor="middle" stroke="#111" stroke-width="0.3">10</text>
<text x="605.5" y="1017.6" font-size="11.66" font-weight="bold" textLength="99.4" lengthAdjust="spacingAndGlyphs" stroke="#111" stroke-width="0.3">A: Temperature (ºC)</text>
<text transform="translate(488.9,857.6) rotate(-90)" x="0" y="0" font-size="11" font-weight="bold" text-anchor="middle" textLength="27.0" lengthAdjust="spacingAndGlyphs" stroke="#111" stroke-width="0.3">P (%)</text>
<text x="396.4" y="731.0" font-size="11.24" font-weight="bold" textLength="106.8" lengthAdjust="spacingAndGlyphs" stroke="#111" stroke-width="0.3">Factor Coding: Actual</text>
<text x="396.4" y="743.2" font-size="11.24" font-weight="bold" textLength="28.0" lengthAdjust="spacingAndGlyphs" stroke="#111" stroke-width="0.3">P (%)</text>
<circle cx="399.7" cy="752.1" r="4.0" fill="#c40000" stroke="#200" stroke-width="0.8"/>
<text x="407.9" y="756.4" font-size="11.24" font-weight="bold" textLength="64.0" lengthAdjust="spacingAndGlyphs" stroke="#111" stroke-width="0.3">Design Points</text>
<text x="397.0" y="770.6" font-size="11.24" font-weight="bold" textLength="32.5" lengthAdjust="spacingAndGlyphs" stroke="#111" stroke-width="0.3">X1 = A</text>
<text x="396.4" y="784.6" font-size="11.24" font-weight="bold" textLength="64.8" lengthAdjust="spacingAndGlyphs" stroke="#111" stroke-width="0.3">Actual Factor</text>
<text x="397.0" y="800.4" font-size="11.24" font-weight="bold" textLength="29.9" lengthAdjust="spacingAndGlyphs" stroke="#111" stroke-width="0.3">B = 15</text>
<text x="608.4" y="1043.7" font-size="18.50" font-weight="bold" textLength="8.9" lengthAdjust="spacingAndGlyphs" font-family='"Liberation Sans", sans-serif' fill="#000" stroke="#000" stroke-width="0.3">F</text>
<path d="M538.0,921.5 L615.6,836.5 L693.8,829.1 L771.6,836.3" fill="none" stroke="#8a8a8a" stroke-width="0.9"/>
<text x="609.4" y="838.4" font-size="5.5" text-anchor="middle" fill="#333">2</text>
<text x="687.6" y="831.0" font-size="5.5" text-anchor="middle" fill="#333">2</text>
<text x="765.4" y="838.2" font-size="5.5" text-anchor="middle" fill="#333">2</text>
<line x1="538.0" y1="908.7" x2="538.0" y2="934.6" stroke="#222" stroke-width="1.1"/>
<line x1="533.0" y1="908.7" x2="543.0" y2="908.7" stroke="#333" stroke-width="1.3"/>
<line x1="533.0" y1="934.6" x2="543.0" y2="934.6" stroke="#333" stroke-width="1.3"/>
<rect x="535.9" y="919.4" width="4.2" height="4.2" fill="#000" stroke="#000" stroke-width="0.9"/>
<circle cx="538.0" cy="918.8" r="2.5" fill="#c40000" stroke="#300" stroke-width="0.7"/>
<circle cx="538.0" cy="926.0" r="2.5" fill="#c40000" stroke="#300" stroke-width="0.7"/>
<line x1="615.6" y1="823.6" x2="615.6" y2="849.4" stroke="#222" stroke-width="1.1"/>
<line x1="610.6" y1="823.6" x2="620.6" y2="823.6" stroke="#333" stroke-width="1.3"/>
<line x1="610.6" y1="849.4" x2="620.6" y2="849.4" stroke="#333" stroke-width="1.3"/>
<circle cx="615.6" cy="832.0" r="2.5" fill="#c40000" stroke="#300" stroke-width="0.7"/>
<circle cx="615.6" cy="836.5" r="2.5" fill="#c40000" stroke="#300" stroke-width="0.7"/>
<circle cx="615.6" cy="841.0" r="2.5" fill="#c40000" stroke="#300" stroke-width="0.7"/>
<line x1="693.8" y1="816.5" x2="693.8" y2="842.0" stroke="#222" stroke-width="1.1"/>
<line x1="688.8" y1="816.5" x2="698.8" y2="816.5" stroke="#333" stroke-width="1.3"/>
<line x1="688.8" y1="842.0" x2="698.8" y2="842.0" stroke="#333" stroke-width="1.3"/>
<rect x="691.6" y="826.9" width="4.4" height="4.4" fill="#c40000" stroke="#000" stroke-width="0.9"/>
<circle cx="693.8" cy="818.9" r="2.5" fill="#c40000" stroke="#300" stroke-width="0.7"/>
<circle cx="693.8" cy="839.4" r="2.5" fill="#c40000" stroke="#300" stroke-width="0.7"/>
<line x1="771.6" y1="823.6" x2="771.6" y2="849.4" stroke="#222" stroke-width="1.1"/>
<line x1="766.6" y1="823.6" x2="776.6" y2="823.6" stroke="#333" stroke-width="1.3"/>
<line x1="766.6" y1="849.4" x2="776.6" y2="849.4" stroke="#333" stroke-width="1.3"/>
<rect x="769.4" y="834.1" width="4.4" height="4.4" fill="#c40000" stroke="#000" stroke-width="0.9"/>
<circle cx="771.6" cy="826.2" r="2.5" fill="#c40000" stroke="#300" stroke-width="0.7"/>
<circle cx="771.6" cy="846.8" r="2.5" fill="#c40000" stroke="#300" stroke-width="0.7"/>
</svg>
</body></html>
